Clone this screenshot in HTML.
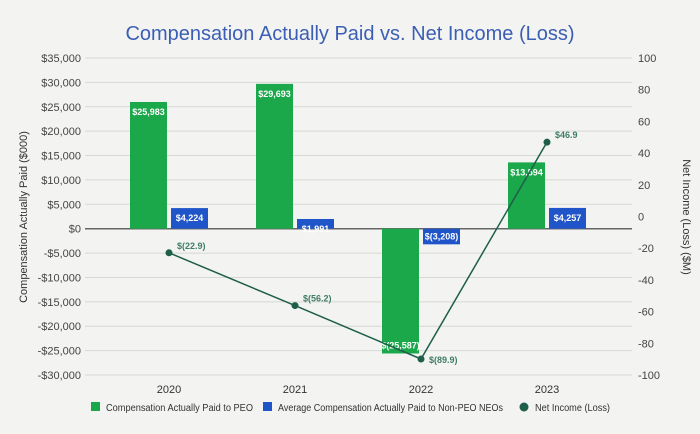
<!DOCTYPE html>
<html><head><meta charset="utf-8"><style>
body{margin:0;background:#f3f4f1;}
svg{display:block;font-family:"Liberation Sans",Arial,sans-serif;}
</style></head><body>
<svg id="c" width="700" height="434">
<rect width="700" height="434" fill="#f3f4f1"/>
<text x="350" y="40" text-anchor="middle" font-size="20" fill="#3b5eb5">Compensation Actually Paid vs. Net Income (Loss)</text>
<text transform="translate(27,217) rotate(-90)" text-anchor="middle" font-size="11" fill="#333">Compensation Actually Paid ($000)</text>
<text transform="translate(683,217) rotate(90)" text-anchor="middle" font-size="11" fill="#333">Net Income (Loss) ($M)</text>
<g id="g"></g>
</svg>
<script>
const categories=["2020","2021","2022","2023"];
const peo=[25983,29693,-25587,13594];
const neo=[4224,1991,-3208,4257];
const netIncome=[-22.9,-56.2,-89.9,46.9];
const leftTicks=[35000,30000,25000,20000,15000,10000,5000,0,-5000,-10000,-15000,-20000,-25000,-30000];
const rightTicks=[100,80,60,40,20,0,-20,-40,-60,-80,-100];
const NS="http://www.w3.org/2000/svg",g=document.getElementById('g');
const plotTop=58,plotBot=375,L=85,R=632;
const yL=v=>plotTop+(35000-v)/65000*(plotBot-plotTop);
const yR=v=>plotTop+(100-v)/200*(plotBot-plotTop);
const xC=i=>169+i*126;
function el(t,a,txt){const e=document.createElementNS(NS,t);for(const k in a)e.setAttribute(k,a[k]);if(txt!==undefined)e.textContent=txt;g.appendChild(e);return e;}
const fmt=v=>v<0?"$("+Math.abs(v).toLocaleString("en-US")+")":"$"+v.toLocaleString("en-US");
leftTicks.forEach(v=>{
 let l=el('line',{x1:L,x2:R,y1:yL(v),y2:yL(v),stroke:v===0?'#666':'#d6d8d4','stroke-width':v===0?1.5:1});
 
 
 let t=el('text',{x:L-4,y:yL(v)+4,'text-anchor':'end','font-size':11,fill:'#444'},v<0?"-$"+Math.abs(v).toLocaleString("en-US"):"$"+v.toLocaleString("en-US"));
 
 
});
rightTicks.forEach(v=>{
 let t=el('text',{x:R+6,y:yR(v)+4,'font-size':11,fill:'#444'},String(v));
 
 
});
categories.forEach((c,i)=>{
 let t=el('text',{x:xC(i),y:plotBot+18,'text-anchor':'middle','font-size':11,fill:'#333'},c);
 
 
 const z=yL(0);
 [[peo[i],'#1aa84a',xC(i)-39,'bar-peo'],[neo[i],'#1f55c8',xC(i)+2,'bar-neo']].forEach(([v,col,x,n])=>{
  const y=yL(v),h=Math.abs(y-z);
  let r=el('rect',{x:x,y:Math.min(y,z),width:37,height:h,fill:col});
  
  
  const ly=v>=0?y+13:y-5;
  let lt=el('text',{x:x+18.5,y:ly,'text-anchor':'middle','font-size':9,'font-weight':'bold',fill:'#fff'},fmt(v));
  
  
 });
});
let pts=netIncome.map((v,i)=>xC(i)+","+yR(v)).join(" ");
let pl=el('polyline',{points:pts,fill:'none',stroke:'#1f5e4b','stroke-width':1.5});


netIncome.forEach((v,i)=>{
 let c=el('circle',{cx:xC(i),cy:yR(v),r:3.5,fill:'#1f5e4b'});
 
 
 let t=el('text',{x:xC(i)+8,y:yR(v)-(i==2?-4:4),'font-size':9,'font-weight':'bold',fill:'#3f7d66'},v<0?"$("+Math.abs(v).toFixed(1)+")":"$"+v.toFixed(1));
 
 
});
const leg=[['rect','#1aa84a',91,'Compensation Actually Paid to PEO','legend-peo',147],['rect','#1f55c8',263,'Average Compensation Actually Paid to Non-PEO NEOs','legend-neo',225],['circle','#1f5e4b',524,'Net Income (Loss)','legend-net-income',75]];
leg.forEach(([s,col,x,txt,n,w])=>{
 let m=s==='rect'?el('rect',{x:x,y:402,width:9,height:9,fill:col}):el('circle',{cx:x,cy:407,r:4.5,fill:col});
 
 
 let t=el('text',{x:x+(s==='rect'?15:11),y:411,'font-size':10,fill:'#333',textLength:w,lengthAdjust:'spacingAndGlyphs'},txt);
 
 
});
</script>
</body></html>
